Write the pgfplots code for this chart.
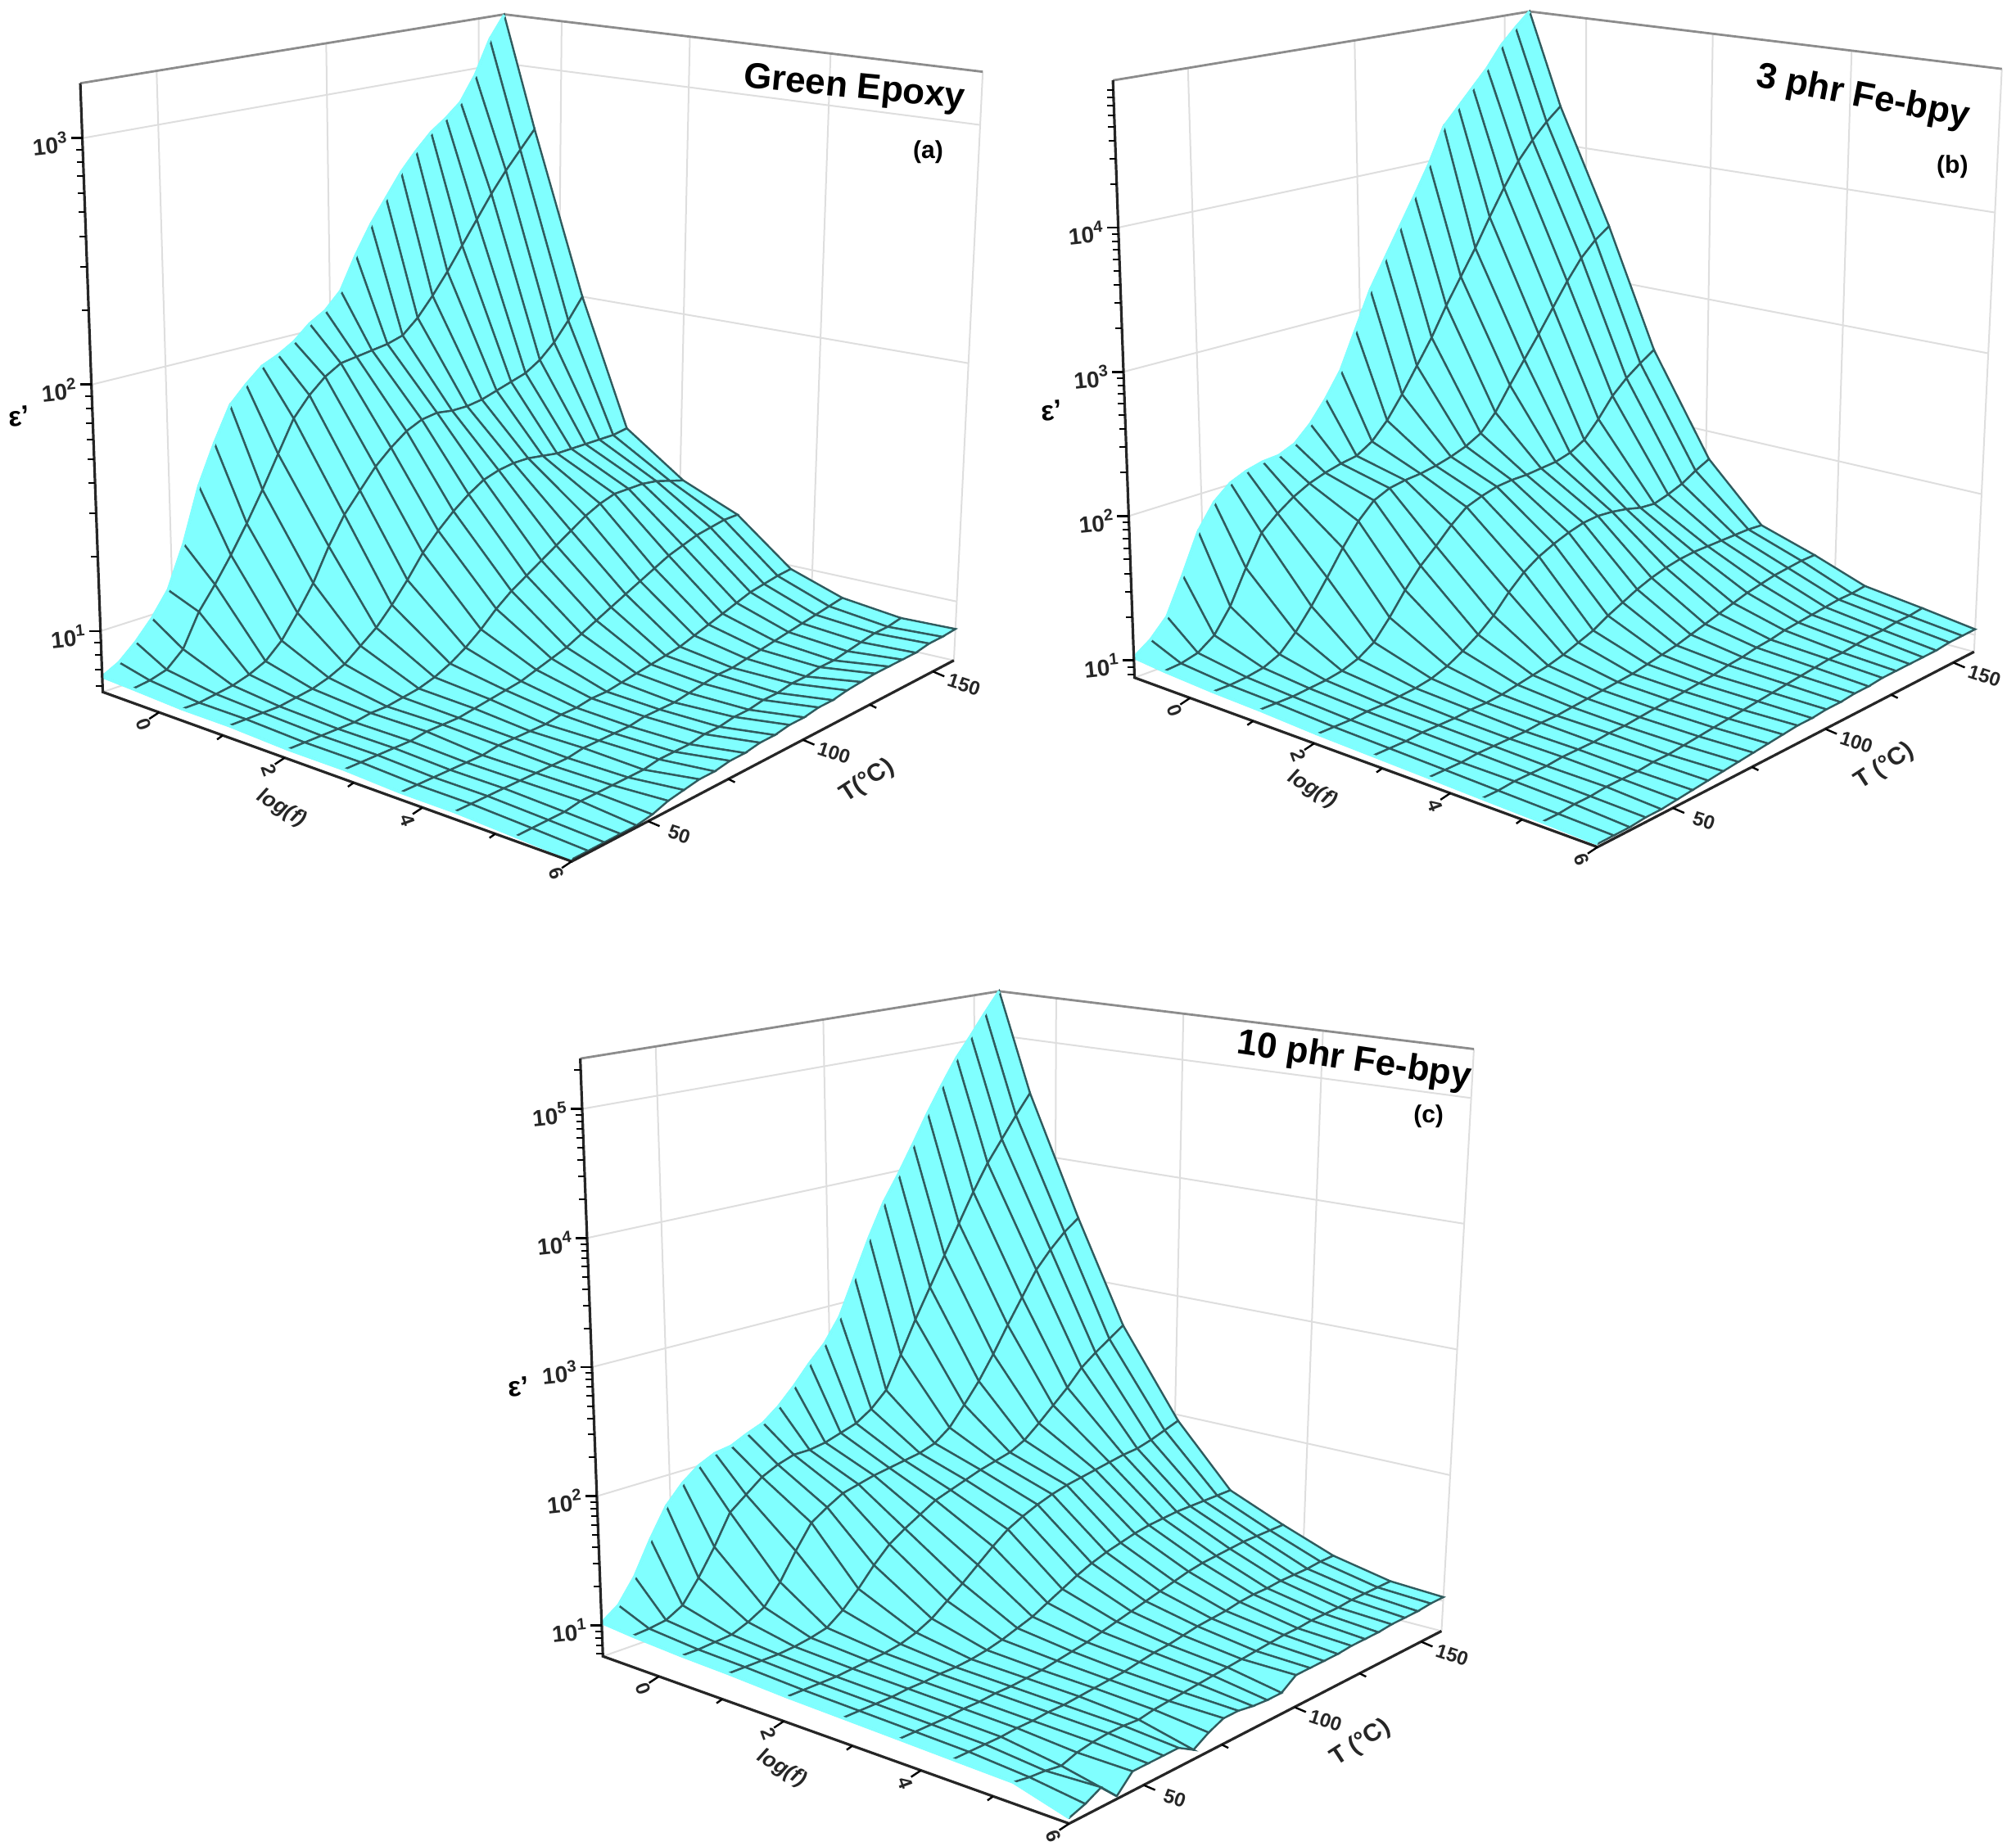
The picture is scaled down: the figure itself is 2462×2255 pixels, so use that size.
\documentclass[border=0pt]{standalone}
\usepackage{fontspec}
\setmainfont{Liberation Sans}
\usepackage{pgfplots}
\usepackage{pgfplotstable}
\pgfplotsset{compat=1.18}
\definecolor{surfcyan}{HTML}{80FFFF}
\definecolor{meshline}{HTML}{2F5B5E}
\definecolor{wallgrid}{HTML}{DEDEDE}
\definecolor{boxgray}{HTML}{8C8C8C}

% log10(eps') : one row per point, lines run from highest T to lowest T,
% each line holds the 10 log(f) columns from lowest to highest frequency
\pgfplotstableread[row sep=\\,header=false]{
3.22\\2.72\\2.00\\1.45\\1.27\\1.17\\0.985\\0.91\\0.88\\0.885\\
3.12\\2.64\\1.91\\1.44\\1.29\\1.17\\0.98\\0.90\\0.87\\0.88\\
2.97\\2.56\\1.83\\1.44\\1.31\\1.16\\0.97\\0.89\\0.87\\0.88\\
2.86\\2.47\\1.77\\1.44\\1.32\\1.15\\0.96\\0.88\\0.86\\0.87\\
2.80\\2.37\\1.73\\1.44\\1.32\\1.13\\0.94\\0.87\\0.85\\0.87\\
2.75\\2.27\\1.71\\1.44\\1.32\\1.11\\0.92\\0.86\\0.84\\0.87\\
2.68\\2.17\\1.69\\1.45\\1.30\\1.08\\0.90\\0.85\\0.84\\0.87\\
2.60\\2.08\\1.67\\1.46\\1.27\\1.05\\0.88\\0.84\\0.83\\0.865\\
2.50\\2.00\\1.66\\1.46\\1.23\\1.02\\0.86\\0.83\\0.83\\0.86\\
2.40\\1.94\\1.66\\1.45\\1.19\\0.99\\0.85\\0.83\\0.82\\0.85\\
2.28\\1.92\\1.67\\1.43\\1.15\\0.96\\0.84\\0.82\\0.82\\0.85\\
2.14\\1.91\\1.66\\1.39\\1.11\\0.93\\0.83\\0.81\\0.81\\0.84\\
2.07\\1.90\\1.63\\1.34\\1.07\\0.90\\0.82\\0.80\\0.81\\0.84\\
2.03\\1.89\\1.58\\1.28\\1.02\\0.88\\0.81\\0.80\\0.80\\0.83\\
1.97\\1.85\\1.52\\1.21\\0.96\\0.86\\0.81\\0.80\\0.80\\0.83\\
1.93\\1.79\\1.44\\1.12\\0.91\\0.84\\0.80\\0.79\\0.79\\0.82\\
1.90\\1.71\\1.36\\1.04\\0.87\\0.83\\0.80\\0.79\\0.79\\0.82\\
1.84\\1.58\\1.25\\0.97\\0.84\\0.82\\0.79\\0.79\\0.79\\0.81\\
1.77\\1.45\\1.12\\0.92\\0.82\\0.81\\0.79\\0.79\\0.78\\0.81\\
1.63\\1.33\\1.02\\0.87\\0.81\\0.80\\0.79\\0.78\\0.78\\0.80\\
1.47\\1.22\\0.93\\0.84\\0.80\\0.80\\0.79\\0.78\\0.78\\0.79\\
1.25\\1.12\\0.87\\0.82\\0.80\\0.80\\0.78\\0.78\\0.78\\0.77\\
1.08\\1.03\\0.84\\0.81\\0.79\\0.79\\0.78\\0.78\\0.78\\0.76\\
0.985\\0.90\\0.82\\0.80\\0.79\\0.79\\0.78\\0.78\\0.77\\0.76\\
0.91\\0.84\\0.81\\0.80\\0.79\\0.79\\0.78\\0.78\\0.77\\0.76\\
0.85\\0.82\\0.80\\0.80\\0.79\\0.79\\0.78\\0.78\\0.77\\0.76\\
0.815\\0.81\\0.80\\0.80\\0.79\\0.79\\0.78\\0.78\\0.77\\0.76\\
}\epsA

\pgfplotstableread[row sep=\\,header=false]{
5.02\\4.30\\3.42\\2.53\\1.79\\1.39\\1.27\\1.14\\1.09\\1.04\\
4.91\\4.20\\3.34\\2.46\\1.74\\1.40\\1.27\\1.13\\1.08\\1.04\\
4.79\\4.08\\3.23\\2.38\\1.68\\1.40\\1.26\\1.13\\1.08\\1.04\\
4.63\\3.94\\3.08\\2.28\\1.64\\1.40\\1.25\\1.12\\1.07\\1.03\\
4.50\\3.76\\2.91\\2.14\\1.61\\1.40\\1.23\\1.11\\1.07\\1.03\\
4.37\\3.56\\2.74\\2.02\\1.62\\1.40\\1.21\\1.10\\1.06\\1.03\\
4.24\\3.35\\2.58\\1.96\\1.65\\1.39\\1.18\\1.09\\1.05\\1.03\\
3.98\\3.16\\2.42\\1.93\\1.67\\1.37\\1.15\\1.07\\1.05\\1.03\\
3.76\\2.97\\2.25\\1.92\\1.68\\1.34\\1.12\\1.06\\1.04\\1.02\\
3.55\\2.76\\2.13\\1.91\\1.67\\1.30\\1.09\\1.04\\1.03\\1.02\\
3.34\\2.58\\2.07\\1.91\\1.64\\1.25\\1.06\\1.03\\1.02\\1.01\\
3.13\\2.40\\2.03\\1.90\\1.60\\1.20\\1.04\\1.01\\1.01\\1.01\\
2.86\\2.24\\2.00\\1.87\\1.55\\1.14\\1.02\\1.00\\1.00\\1.00\\
2.59\\2.12\\1.98\\1.83\\1.48\\1.10\\1.00\\0.99\\0.99\\1.00\\
2.41\\2.05\\1.97\\1.74\\1.38\\1.06\\0.99\\0.98\\0.98\\0.99\\
2.26\\2.03\\1.95\\1.63\\1.26\\1.03\\0.98\\0.97\\0.97\\0.98\\
2.15\\2.00\\1.90\\1.53\\1.17\\1.01\\0.97\\0.96\\0.96\\0.97\\
2.10\\1.96\\1.79\\1.40\\1.10\\0.99\\0.96\\0.95\\0.95\\0.96\\
2.09\\1.90\\1.64\\1.25\\1.04\\0.97\\0.95\\0.95\\0.94\\0.95\\
2.06\\1.82\\1.47\\1.12\\1.00\\0.96\\0.95\\0.94\\0.94\\0.94\\
2.01\\1.72\\1.31\\1.05\\0.98\\0.96\\0.94\\0.94\\0.93\\0.93\\
1.91\\1.51\\1.17\\1.01\\0.97\\0.95\\0.94\\0.94\\0.93\\0.92\\
1.74\\1.28\\1.06\\0.99\\0.96\\0.95\\0.94\\0.93\\0.93\\0.91\\
1.47\\1.12\\1.01\\0.98\\0.96\\0.95\\0.94\\0.93\\0.92\\0.91\\
1.22\\1.04\\0.99\\0.97\\0.95\\0.94\\0.93\\0.93\\0.92\\0.90\\
1.10\\1.01\\0.98\\0.97\\0.95\\0.94\\0.93\\0.92\\0.91\\0.90\\
1.02\\1.00\\0.98\\0.97\\0.95\\0.94\\0.93\\0.92\\0.91\\0.90\\
}\epsB

\pgfplotstableread[row sep=\\,header=false]{
5.39\\4.53\\3.51\\2.66\\1.95\\1.47\\1.29\\1.14\\1.05\\1.03\\
5.22\\4.36\\3.42\\2.58\\1.91\\1.47\\1.29\\1.14\\1.05\\1.03\\
5.04\\4.18\\3.30\\2.50\\1.87\\1.47\\1.29\\1.13\\1.05\\1.02\\
4.87\\4.00\\3.16\\2.41\\1.84\\1.47\\1.29\\1.13\\1.05\\1.02\\
4.66\\3.78\\2.96\\2.28\\1.83\\1.47\\1.28\\1.13\\1.04\\1.02\\
4.44\\3.54\\2.76\\2.17\\1.81\\1.46\\1.27\\1.12\\1.04\\1.01\\
4.20\\3.30\\2.55\\2.06\\1.79\\1.45\\1.26\\1.12\\1.04\\1.01\\
3.97\\3.06\\2.36\\1.96\\1.77\\1.43\\1.24\\1.11\\1.03\\1.01\\
3.76\\2.82\\2.20\\1.90\\1.75\\1.40\\1.21\\1.09\\1.03\\1.00\\
3.49\\2.56\\2.05\\1.87\\1.72\\1.37\\1.18\\1.08\\1.02\\1.00\\
3.19\\2.30\\1.96\\1.84\\1.68\\1.33\\1.15\\1.07\\1.01\\1.00\\
2.89\\2.18\\1.92\\1.80\\1.63\\1.28\\1.12\\1.05\\1.00\\1.00\\
2.70\\2.10\\1.90\\1.76\\1.57\\1.22\\1.09\\1.03\\0.99\\0.92\\
2.57\\2.06\\1.88\\1.72\\1.48\\1.16\\1.06\\1.02\\0.98\\0.92\\
2.42\\2.02\\1.86\\1.65\\1.38\\1.10\\1.03\\1.00\\0.97\\0.93\\
2.29\\2.00\\1.83\\1.58\\1.28\\1.06\\1.01\\0.98\\0.96\\0.95\\
2.19\\2.00\\1.80\\1.50\\1.19\\1.02\\0.99\\0.97\\0.95\\0.95\\
2.14\\1.96\\1.73\\1.38\\1.10\\0.99\\0.97\\0.96\\0.94\\0.90\\
2.08\\1.90\\1.65\\1.24\\1.04\\0.97\\0.96\\0.95\\0.92\\0.83\\
2.06\\1.80\\1.47\\1.12\\1.00\\0.96\\0.95\\0.94\\0.93\\0.90\\
2.00\\1.70\\1.27\\1.03\\0.98\\0.96\\0.95\\0.94\\0.93\\0.90\\
1.90\\1.47\\1.12\\1.00\\0.97\\0.95\\0.94\\0.93\\0.92\\0.90\\
1.76\\1.27\\1.05\\0.98\\0.96\\0.95\\0.94\\0.93\\0.90\\0.90\\
1.54\\1.10\\1.00\\0.97\\0.95\\0.94\\0.93\\0.92\\0.86\\0.78\\
1.29\\1.03\\0.99\\0.97\\0.95\\0.94\\0.93\\0.92\\0.88\\0.90\\
1.11\\1.01\\0.98\\0.97\\0.95\\0.94\\0.93\\0.92\\0.89\\0.84\\
1.02\\1.00\\0.98\\0.97\\0.95\\0.94\\0.93\\0.92\\0.91\\0.80\\
}\epsC

% box of one panel seen in perspective: u along log(f), v along T, w along log(eps')
\tikzset{panelfun/.style={declare function={
  Uf(\cc)=(\cc>0.5)*(\cc<1.5)*0.065+(\cc>1.5)*(\cc<2.5)*0.17+(\cc>2.5)*(\cc<3.5)*0.27+(\cc>3.5)*(\cc<4.5)*0.395+(\cc>4.5)*(\cc<5.5)*0.515+(\cc>5.5)*(\cc<6.5)*0.635+(\cc>6.5)*(\cc<7.5)*0.75+(\cc>7.5)*(\cc<8.5)*0.88+(\cc>8.5);
  Row(\kk)=floor((\kk+0.5)/10);
  Vs(\ss)=\ss+0.12*\ss*(1-\ss);
  PX(\uu,\vv,\ww)=(1-\ww)*((1-\uu)*(1-\vv)*\LBx+\uu*(1-\vv)*\Fx+(1-\uu)*\vv*\BBx+\uu*\vv*\Rx)+\ww*((1-\uu)*(1-\vv)*\LTx+\uu*(1-\vv)*\FTx+(1-\uu)*\vv*\BTx+\uu*\vv*\RTx);
  PY(\uu,\vv,\ww)=(1-\ww)*((1-\uu)*(1-\vv)*\LBy+\uu*(1-\vv)*\Fy+(1-\uu)*\vv*\BBy+\uu*\vv*\Ry)+\ww*((1-\uu)*(1-\vv)*\LTy+\uu*(1-\vv)*\FTy+(1-\uu)*\vv*\BTy+\uu*\vv*\RTy);
}}}
\pgfplotsset{/pgfplots/table/projected/.style={x index=0, y index=0, z index=0,
  x expr={PX(Uf(\coordindex-10*Row(\coordindex)),Vs(1-Row(\coordindex)/26),(\thisrowno{0}-\zmin)/\zrng)},
  y expr={-PY(Uf(\coordindex-10*Row(\coordindex)),Vs(1-Row(\coordindex)/26),(\thisrowno{0}-\zmin)/\zrng)},
  z expr=0}}
\newcommand\pp[3]{({\ox+\sx*PX(#1,#2,#3)},{\oy+\sy*PY(#1,#2,#3)})}
\newcommand\zz[2]{({\ox+\sx*#1},{\oy+\sy*#2})}

\newcommand\walls{%
  \foreach \d in \zmaj {
    \pgfmathsetmacro\w{(\d-\zmin)/\zrng}
    \draw[wallgrid,line width=.5pt] \pp{0}{0}{\w} -- \pp{0}{1}{\w} -- \pp{1}{1}{\w};
  }
  \foreach \v in {0.18,0.58,0.94} \draw[wallgrid,line width=.5pt] \pp{0}{\v}{0} -- \pp{0}{\v}{1};
  \foreach \u in {0.12,0.388,0.682} \draw[wallgrid,line width=.5pt] \pp{\u}{1}{0} -- \pp{\u}{1}{1};
  \draw[wallgrid,line width=.5pt] \pp{1}{1}{0} -- \pp{1}{1}{1};
  \draw[wallgrid,line width=.5pt] \pp{0}{0}{0} -- \pp{0}{1}{0} -- \pp{1}{1}{0};
  \draw[boxgray,line width=.7pt] \pp{0}{0}{1} -- \pp{0}{1}{1} -- \pp{1}{1}{1};
  \draw[wallgrid,line width=.6pt] \pp{0}{1}{0} -- \pp{0}{1}{1};
}

\newcommand\surface[1]{%
  \begin{axis}[
    at={({\ox*0.25pt},{-\oy*0.25pt})}, anchor=north west,
    scale only axis, width={\sx*1568*0.25pt}, height={\sy*1568*0.25pt},
    xmin=0, xmax=1568, ymin=-1568, ymax=0, zmin=-1, zmax=1,
    view={0}{90}, hide axis, clip=false,
    colormap={cy}{color(0cm)=(surfcyan) color(1cm)=(surfcyan)},
    point meta min=0, point meta max=1,
  ]
  \addplot3[surf, shader=faceted, faceted color=meshline, line width=.6pt,
    z buffer=none, mesh/rows=27, mesh/cols=10, point meta=0]
    table[projected] {#1};
  % the low-frequency and low-temperature rims carry no mesh line
  \addplot3[surfcyan, line width=.9pt, no marks, each nth point=10, filter discard warning=false]
    table[projected] {#1};
  \addplot3[surfcyan, line width=.9pt, no marks, skip coords between index={0}{260}, filter discard warning=false]
    table[projected] {#1};
  \end{axis}
}

\newcommand\axesticks{%
  \draw[black!85,line width=.8pt] \pp{0}{0}{1} -- \pp{0}{0}{0} -- \pp{1}{0}{0} -- \pp{1}{1}{0};
  \foreach \u in {0.256,0.535,0.837} \draw[black,line width=.6pt] \pp{\u}{0}{0} -- ++(-7,5);
  \foreach \u/\t in {0.12/0,0.388/2,0.682/4,1/6} {
    \draw[black,line width=.6pt] \pp{\u}{0}{0} -- ++(-12,8);
    \path \pp{\u}{0}{0} ++(-19,15) node[rotate=-70,inner sep=0pt,font=\bfseries\fontsize{6}{7}\selectfont,text=black!85] {\t};
  }
  \foreach \v in {0.41,0.78} \draw[black,line width=.6pt] \pp{1}{\v}{0} -- ++(8,4);
  \foreach \v/\t in {0.2/50,0.605/100,0.945/150} {
    \draw[black,line width=.6pt] \pp{1}{\v}{0} -- ++(14,6);
    \path \pp{1}{\v}{0} ++(38,16) node[rotate=-18,inner sep=0pt,font=\bfseries\fontsize{6}{7}\selectfont,text=black!85] {\t};
  }
  \foreach \d in {0,...,\ztop} \foreach \m in {2,...,9} {
    \pgfmathsetmacro\w{(\d+log10(\m)-\zmin)/\zrng}
    \ifdim\w pt<0pt\else\ifdim\w pt>1pt\else
      \draw[black,line width=.5pt] \pp{0}{0}{\w} -- ++(-8,0);
    \fi\fi
  }
  \foreach \d in \zmaj {
    \pgfmathsetmacro\w{(\d-\zmin)/\zrng}
    \draw[black,line width=.7pt] \pp{0}{0}{\w} -- ++(-14,0);
    \path \pp{0}{0}{\w} ++(-16,4) node[anchor=east,rotate=6,inner sep=0pt,font=\bfseries\fontsize{7}{9}\selectfont,text=black!85] {10\textsuperscript{\d}};
  }
}

\newcommand\labels[9]{%
  \node[rotate=-31,font=\bfseries\itshape\fontsize{6.5}{8}\selectfont,text=black!85] at \zz{#1}{#2} {log(f)};
  \node[rotate=33,font=\bfseries\fontsize{7.5}{9}\selectfont,text=black!85] at \zz{#3}{#4} {\Tlab};
  \node[font=\bfseries\fontsize{8.5}{10}\selectfont,rotate=5] at \zz{#5}{#6} {ε'};
  \node[font=\bfseries\fontsize{7.5}{9}\selectfont] at \zz{#7}{#8} {#9};
}

\begin{document}
\begin{tikzpicture}[x=0.25pt,y=-0.25pt]
\useasboundingbox (0,0) rectangle (2462,2255);

% (a)
\begin{scope}
\def\ox{0}\def\oy{0}\def\sx{0.78444}\def\sy{0.70153}\def\Tlab{T(°C)}
\def\zmin{0.753}\def\zrng{2.47}\def\zmaj{1,2,3}\def\ztop{3}
\def\LBx{160}\def\LBy{1205}\def\Fx{890}\def\Fy{1500}\def\BBx{782}\def\BBy{970}\def\Rx{1485}\def\Ry{1150}
\def\LTx{125}\def\LTy{145}\def\FTx{898}\def\FTy{300}\def\BTx{785}\def\BTy{25}\def\RTx{1530}\def\RTy{125}
\begin{scope}[panelfun]
\walls
\surface{\epsA}
\axesticks
\labels{438}{1408}{1350}{1360}{30}{725}{1445}{265}{(a)}
\node[font=\bfseries\fontsize{11}{13}\selectfont,rotate=-5.5] at \zz{1330}{155} {Green Epoxy};
\end{scope}
\end{scope}

% (b)
\begin{scope}
\def\ox{1280}\def\oy{0}\def\sx{0.75383}\def\sy{0.70153}\def\Tlab{T (°C)}
\def\zmin{0.88}\def\zrng{4.14}\def\zmaj{1,2,3,4}\def\ztop{4}
\def\LBx{140}\def\LBy{1180}\def\Fx{890}\def\Fy{1475}\def\BBx{785}\def\BBy{925}\def\Rx{1500}\def\Ry{1135}
\def\LTx{105}\def\LTy{140}\def\FTx{900}\def\FTy{315}\def\BTx{780}\def\BTy{20}\def\RTx{1545}\def\RTy{120}
\begin{scope}[panelfun]
\walls
\surface{\epsB}
\axesticks
\labels{428}{1375}{1355}{1335}{5}{715}{1465}{290}{(b)}
\node[font=\bfseries\fontsize{11}{13}\selectfont,rotate=-11] at \zz{1320}{170} {3 phr Fe-bpy};
\end{scope}
\end{scope}

% (c)
\begin{scope}
\def\ox{590}\def\oy{1180}\def\sx{0.79082}\def\sy{0.68559}\def\Tlab{T (°C)}
\def\zmin{0.76}\def\zrng{4.63}\def\zmaj{1,2,3,4,5}\def\ztop{5}
\def\LBx{185}\def\LBy{1230}\def\Fx{905}\def\Fy{1528}\def\BBx{800}\def\BBy{980}\def\Rx{1480}\def\Ry{1185}
\def\LTx{150}\def\LTy{165}\def\FTx{913}\def\FTy{348}\def\BTx{797}\def\BTy{45}\def\RTx{1530}\def\RTy{148}
\begin{scope}[panelfun]
\walls
\surface{\epsC}
\axesticks
\labels{461}{1430}{1355}{1385}{55}{750}{1460}{268}{(c)}
\node[font=\bfseries\fontsize{11}{13}\selectfont,rotate=-8.5] at \zz{1345}{170} {10 phr Fe-bpy};
\end{scope}
\end{scope}
\end{tikzpicture}
\end{document}
